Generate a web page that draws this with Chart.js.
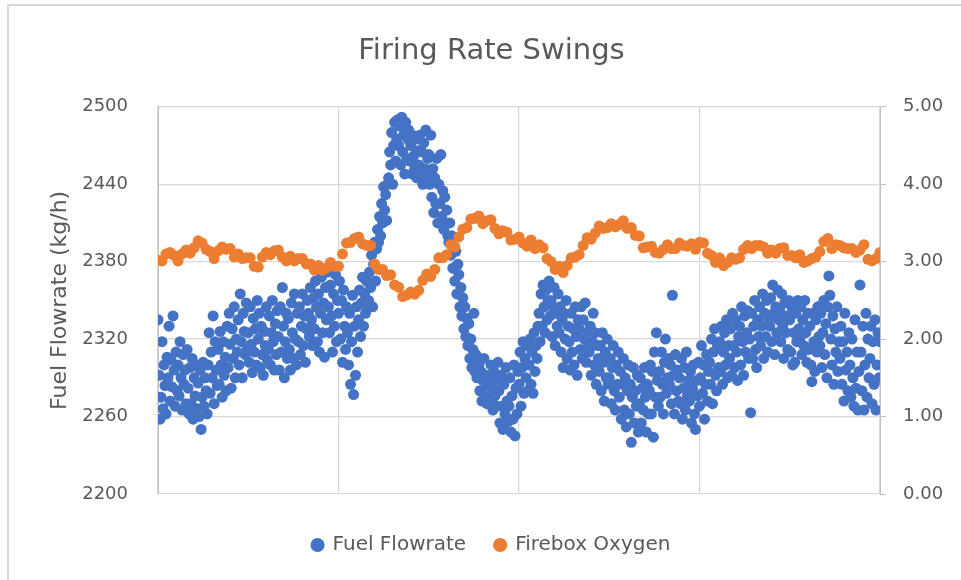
<!DOCTYPE html>
<html><head><meta charset="utf-8">
<script src="https://cdn.jsdelivr.net/npm/chart.js@4"></script>
<style>
html,body{margin:0;padding:0;background:#fff;overflow:hidden;}
#wrap{position:relative;width:961px;height:580px;}
#frame{position:absolute;left:7px;top:4px;width:980px;height:600px;border-left:2px solid #d9d9d9;border-top:2px solid #d9d9d9;pointer-events:none;}
canvas{position:absolute;left:0;top:0;}
</style></head>
<body><div id="wrap"><canvas id="c" width="961" height="580"></canvas><div id="frame"></div></div>
<script>
const chartTitle = "Firing Rate Swings";
const seriesNames = ["Fuel Flowrate", "Firebox Oxygen"];
const yLeftTitle = "Fuel Flowrate (kg/h)";
const xRange = [0, 360];
const xGridStep = 90;
const yLeftRange = [2200, 2500];
const yLeftStep = 60;
const yRightRange = [0, 5];
const yRightStep = 1;
const fuelSampleStep = 0.5;
const oxygenSampleStep = 2;

const fuelFlowrate = [
2335,2292,2258,2275,2318,2266,2300,2284,2262,2306,
2290,2330,2272,2304,2283,2338,2296,2268,2310,2280,
2300,2276,2318,2290,2265,2308,2285,2296,2270,2312,
2282,2262,2298,2270,2305,2258,2290,2276,2300,2266,
2286,2260,2296,2250,2275,2302,2268,2290,2280,2262,
2300,2325,2278,2310,2290,2338,2270,2318,2296,2284,
2312,2285,2326,2300,2275,2318,2292,2306,2280,2330,
2298,2340,2316,2282,2328,2305,2345,2290,2320,2310,
2335,2300,2355,2318,2290,2340,2326,2308,2348,2312,
2325,2302,2345,2316,2294,2336,2310,2328,2300,2350,
2320,2340,2298,2330,2308,2292,2326,2315,2345,2304,
2312,2338,2300,2325,2350,2318,2296,2332,2308,2342,
2322,2296,2345,2310,2360,2330,2290,2318,2340,2305,
2336,2312,2296,2348,2325,2305,2355,2320,2300,2340,
2318,2345,2308,2330,2355,2315,2338,2302,2328,2350,
2340,2322,2360,2335,2315,2352,2328,2365,2345,2318,
2355,2310,2340,2368,2325,2348,2306,2360,2335,2372,
2345,2325,2362,2338,2310,2355,2330,2370,2318,2350,
2340,2365,2320,2350,2302,2358,2330,2312,2345,2325,
2300,2340,2285,2318,2354,2277,2330,2292,2345,2310,
2335,2358,2322,2348,2368,2330,2355,2340,2365,2345,
2350,2372,2360,2385,2345,2378,2395,2365,2390,2405,
2395,2415,2400,2425,2410,2438,2420,2432,2412,2440,
2445,2465,2455,2480,2440,2470,2488,2458,2475,2490,
2470,2485,2455,2492,2465,2478,2448,2488,2460,2475,
2482,2458,2470,2448,2478,2462,2452,2475,2445,2466,
2455,2478,2448,2465,2440,2472,2452,2482,2446,2460,
2463,2440,2478,2430,2452,2418,2445,2425,2460,2410,
2440,2425,2463,2415,2435,2405,2430,2410,2420,2400,
2395,2410,2385,2400,2375,2392,2365,2388,2355,2378,
2370,2345,2360,2338,2352,2328,2345,2322,2336,2315,
2332,2305,2320,2298,2312,2340,2295,2308,2290,2302,
2300,2280,2295,2272,2288,2305,2276,2292,2270,2284,
2290,2270,2300,2282,2265,2295,2276,2288,2268,2302,
2280,2255,2292,2268,2250,2285,2262,2298,2272,2256,
2268,2290,2248,2276,2258,2300,2245,2282,2262,2295,
2285,2310,2268,2298,2318,2278,2305,2290,2315,2280,
2300,2320,2285,2310,2278,2325,2295,2315,2305,2330,
2340,2318,2355,2330,2362,2345,2325,2358,2335,2350,
2365,2338,2350,2322,2345,2360,2315,2340,2330,2355,
2325,2345,2310,2335,2298,2340,2320,2350,2305,2330,
2318,2296,2340,2310,2328,2300,2345,2322,2292,2335,
2328,2312,2345,2305,2335,2320,2348,2302,2325,2315,
2310,2330,2292,2318,2340,2300,2325,2285,2315,2305,
2295,2315,2280,2325,2302,2272,2310,2290,2320,2285,
2290,2305,2270,2298,2315,2280,2265,2300,2285,2310,
2275,2295,2258,2285,2305,2265,2290,2252,2280,2300,
2262,2285,2240,2275,2298,2255,2280,2268,2292,2248,
2270,2290,2255,2282,2265,2298,2275,2248,2285,2262,
2280,2300,2262,2295,2244,2310,2275,2325,2288,2268,
2295,2275,2310,2285,2262,2302,2320,2278,2290,2305,
2285,2300,2270,2354,2292,2262,2308,2280,2296,2272,
2290,2270,2305,2258,2282,2298,2265,2310,2276,2288,
2272,2295,2255,2282,2300,2262,2250,2288,2276,2302,
2268,2290,2315,2278,2300,2258,2285,2308,2272,2295,
2302,2285,2320,2270,2310,2328,2292,2280,2315,2298,
2318,2295,2330,2285,2310,2325,2300,2335,2290,2315,
2305,2328,2292,2340,2315,2298,2335,2310,2288,2322,
2330,2300,2345,2318,2292,2338,2310,2325,2342,2305,
2320,2263,2340,2305,2330,2350,2312,2298,2335,2322,
2345,2315,2330,2355,2305,2340,2322,2350,2310,2335,
2330,2352,2318,2362,2340,2308,2345,2325,2358,2335,
2342,2318,2355,2330,2305,2348,2325,2338,2312,2350,
2335,2310,2345,2300,2325,2302,2340,2318,2350,2328,
2320,2345,2308,2335,2315,2350,2325,2302,2340,2312,
2330,2300,2287,2340,2318,2295,2335,2310,2345,2322,
2315,2340,2298,2325,2350,2308,2332,2290,2345,2369,
2354,2320,2300,2338,2285,2328,2310,2345,2295,2318,
2305,2330,2285,2318,2272,2340,2296,2310,2280,2325,
2300,2275,2320,2290,2268,2335,2282,2310,2265,2295,
2362,2310,2280,2330,2265,2300,2340,2275,2320,2290,
2305,2330,2270,2318,2285,2335,2265,2300,2325,2290,
2318];

const fireboxOxygen = [
3.02,3.01,3.10,3.12,3.08,3.01,3.10,3.15,3.11,3.18,
3.27,3.24,3.16,3.13,3.04,3.14,3.19,3.16,3.17,3.06,
3.10,3.04,3.05,3.05,2.94,2.93,3.06,3.12,3.09,3.14,
3.15,3.06,3.01,3.07,3.01,3.04,3.04,2.97,2.97,2.89,
2.95,2.89,2.92,2.99,2.94,2.94,3.10,3.24,3.25,3.30,
3.32,3.23,3.21,3.21,2.97,2.90,2.90,2.82,2.83,2.70,
2.67,2.55,2.57,2.61,2.58,2.63,2.76,2.84,2.81,2.90,
3.05,3.05,3.09,3.22,3.19,3.32,3.42,3.44,3.55,3.56,
3.59,3.49,3.53,3.54,3.43,3.36,3.40,3.38,3.28,3.29,
3.32,3.24,3.20,3.28,3.17,3.22,3.18,3.04,3.00,2.90,
2.94,2.86,2.95,3.05,3.06,3.09,3.21,3.31,3.29,3.37,
3.46,3.43,3.44,3.49,3.45,3.48,3.53,3.43,3.44,3.34,
3.33,3.18,3.19,3.20,3.12,3.11,3.16,3.22,3.17,3.17,
3.24,3.21,3.20,3.23,3.16,3.25,3.24,3.11,3.08,2.99,
3.05,2.95,2.99,3.05,3.03,3.05,3.16,3.21,3.17,3.21,
3.21,3.19,3.11,3.15,3.11,3.17,3.18,3.08,3.08,3.05,
3.09,2.99,3.01,3.04,3.06,3.13,3.26,3.30,3.17,3.22,
3.21,3.18,3.17,3.17,3.12,3.15,3.22,3.03,3.01,3.04,
3.12];

const BLUE = '#4472C4', ORANGE = '#ED7D31', TXT = '#595959', GRID = '#d9d9d9', AXIS = '#bfbfbf';
const FONT = "'DejaVu Sans', sans-serif";

const fuelPoints = fuelFlowrate.map((v, i) => ({x: i * fuelSampleStep, y: v}));
const oxyPoints = fireboxOxygen.map((v, i) => ({x: i * oxygenSampleStep, y: v}));

new Chart(document.getElementById('c'), {
  type: 'scatter',
  data: {
    datasets: [
      {label: seriesNames[0], data: fuelPoints, yAxisID: 'y', backgroundColor: BLUE, borderColor: BLUE,
       pointRadius: 5.5, pointBorderWidth: 0, order: 1},
      {label: seriesNames[1], data: oxyPoints, yAxisID: 'y1', backgroundColor: ORANGE, borderColor: ORANGE,
       pointRadius: 5.5, pointBorderWidth: 0, order: 0}
    ]
  },
  options: {
    responsive: false, animation: false, devicePixelRatio: 1,
    layout: {padding: {left: 22, right: 0, top: 0, bottom: 15}},
    plugins: {
      title: {display: true, text: chartTitle, color: TXT, font: {family: FONT, size: 29, weight: 'normal'},
              padding: {top: 34, bottom: 38}},
      legend: {position: 'bottom',
               labels: {sort: (a, b) => a.datasetIndex - b.datasetIndex,
                        usePointStyle: true, pointStyle: 'circle', boxWidth: 10, boxHeight: 10, padding: 29,
                        color: TXT, font: {family: FONT, size: 20}}},
      tooltip: {enabled: false}
    },
    scales: {
      x: {type: 'linear', min: xRange[0], max: xRange[1],
          ticks: {display: false, stepSize: xGridStep},
          grid: {color: GRID, lineWidth: 1.3, drawTicks: false},
          border: {display: false},
          afterFit: s => { s.height = 12; }},
      y: {position: 'left', min: yLeftRange[0], max: yLeftRange[1],
          ticks: {stepSize: yLeftStep, color: TXT, padding: 30, font: {family: FONT, size: 18},
                  callback: v => String(v)},
          grid: {color: GRID, lineWidth: 1.3, drawTicks: false},
          border: {display: true, color: AXIS, width: 1},
          title: {display: true, text: yLeftTitle, color: TXT, font: {family: FONT, size: 22},
                  padding: {top: 25, bottom: 0}},
          afterFit: s => { s.width = 136; }},
      y1: {position: 'right', min: yRightRange[0], max: yRightRange[1],
          ticks: {stepSize: yRightStep, color: TXT, padding: 17, font: {family: FONT, size: 18},
                  callback: v => Number(v).toFixed(2)},
          grid: {drawOnChartArea: false, drawTicks: true, tickLength: 6, tickColor: AXIS},
          border: {display: true, color: AXIS, width: 1},
          afterFit: s => { s.width = 81; }}
    }
  }
});
</script>
</body></html>
